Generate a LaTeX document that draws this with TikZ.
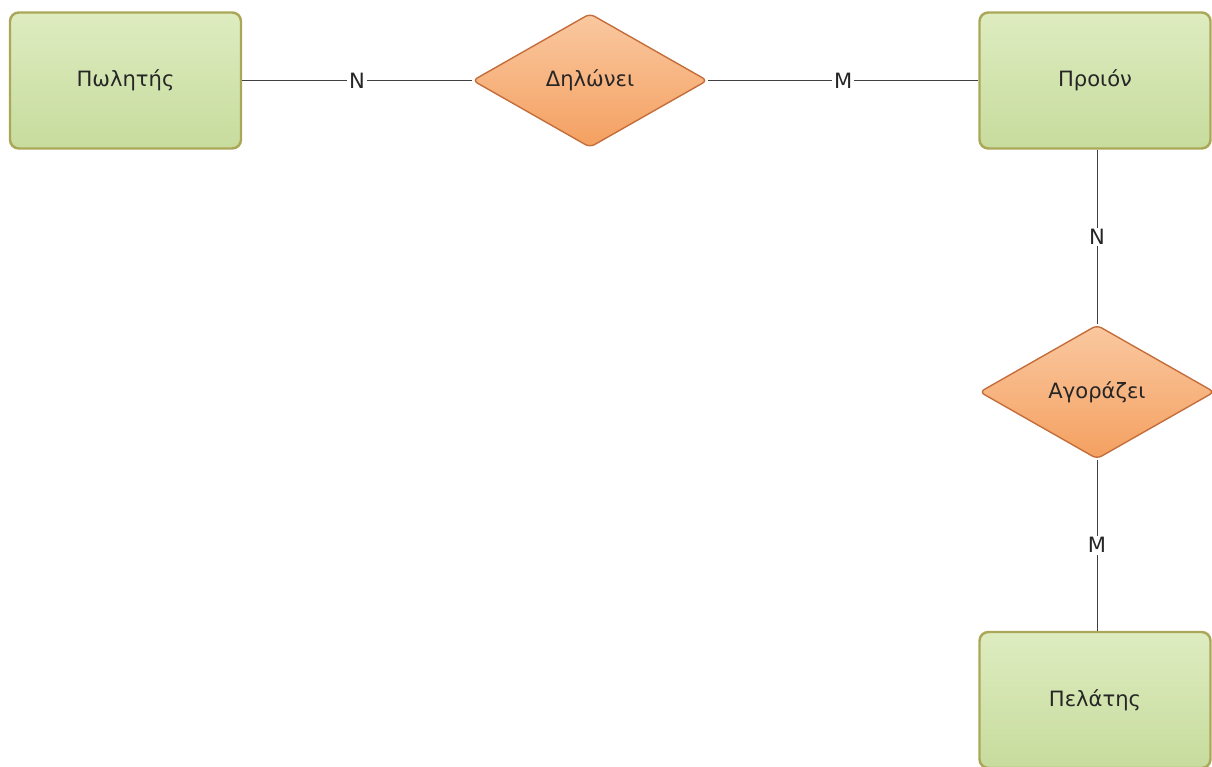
\documentclass[tikz,border=0pt]{standalone}
\usepackage{fontspec}
\setmainfont{DejaVu Sans}
\usetikzlibrary{shapes.geometric}
\definecolor{entfill}{RGB}{180,208,124}
\definecolor{entlight}{RGB}{222,236,192}
\definecolor{entline}{RGB}{170,168,88}
\definecolor{relfill}{RGB}{244,160,96}
\definecolor{rellight}{RGB}{250,200,160}
\definecolor{relline}{RGB}{196,110,60}
\begin{document}
\begin{tikzpicture}
      \tikzstyle{entity}=[draw=entline, line width=1.4pt, rounded corners=5pt,
                          top color=entlight, middle color=entfill,
                          bottom color=entfill!75,
                          minimum width=4.62cm, minimum height=2.72cm,
                          font=\fontsize{12}{14}\selectfont, text=black!85]
      \tikzstyle{relation}=[diamond, draw=relline, line width=0.8pt,
                            rounded corners=3pt, top color=rellight,
                            bottom color=relfill, inner sep=0pt,
                            minimum width=4.7cm, minimum height=2.68cm,
                            font=\fontsize{12}{14}\selectfont, text=black!85]
      \tikzstyle{card}=[fill=white, inner sep=1pt,
                        font=\fontsize{12}{14}\selectfont, text=black!85]
      \tikzstyle{link}=[draw=black!75, line width=0.5pt]
      \useasboundingbox (0, 0) rectangle (24.24, -15.34);
      \node[entity]   (seller)   at (2.51, -1.61)  {Πωλητής};
      \node[relation] (declares) at (11.8, -1.61)  {Δηλώνει};
      \node[entity]   (product)  at (21.9, -1.61)  {Προιόν};
      \node[relation] (buys)     at (21.94, -7.84) {Αγοράζει};
      \node[entity]   (customer) at (21.9, -14.0)  {Πελάτης};
      \draw[link] (seller) -- node[card] (n1) {N} (declares);
      \draw[link] (declares) -- node[card] (m1) {M} (product);
      \draw[link] (product.south -| buys) -- node[card] (n2) {N} (buys);
      \draw[link] (buys) -- node[card] (m2) {M} (customer.north -| buys);
    \end{tikzpicture}
\end{document}
